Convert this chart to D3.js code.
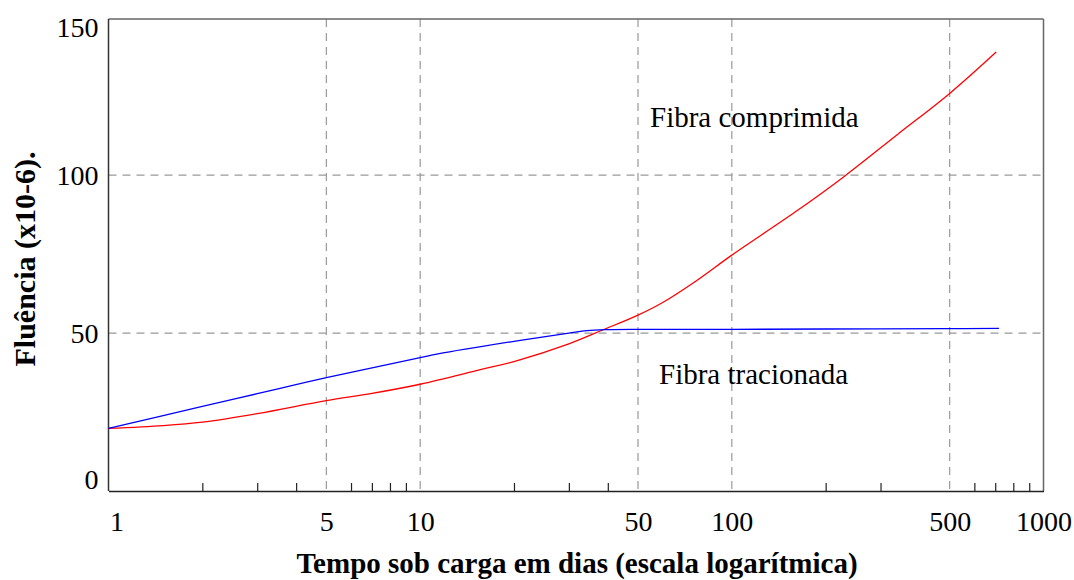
<!DOCTYPE html>
<html>
<head>
<meta charset="utf-8">
<script src="https://cdn.jsdelivr.net/npm/d3@7"></script>
<style>
  html, body { margin: 0; padding: 0; background: #fff; }
  svg { display: block; }
  text { font-family: "Liberation Serif", "Times New Roman", serif; fill: #000; }
</style>
</head>
<body>
<svg id="chart" width="1074" height="580"></svg>
<script>
// ---- data ----
const compDays   = [1, 1.5, 2, 3, 5, 7, 10, 15.6, 20, 30, 38.3, 50, 60, 77, 100, 160, 230, 340, 500, 705];
const compValues = [19.8, 20.7, 21.8, 24.5, 28.6, 30.9, 33.8, 38.4, 41.0, 46.6, 50.9, 55.7, 59.7, 66.6, 74.7, 88.4, 99.7, 112.9, 125.9, 139];
const tracDays   = [1, 2, 3, 5, 10, 11.4, 20, 30, 34.3, 40, 50, 100, 200, 500, 720];
const tracValues = [19.8, 26.8, 30.8, 35.9, 42.2, 43.4, 47.4, 50.0, 50.8, 51.1, 51.2, 51.2, 51.3, 51.4, 51.5];
const xMajorTicks = [1, 5, 10, 50, 100, 500, 1000];
const xGridTicks  = [5, 10, 50, 100, 500];
const xMinorTicks = [2, 3, 4, 6, 7, 8, 9, 20, 30, 40, 200, 300, 600, 700, 800, 900];
const yTicks      = [0, 50, 100, 150];
const yGridTicks  = [50, 100];
const labelComp = "Fibra comprimida";
const labelTrac = "Fibra tracionada";
const xTitle = "Tempo sob carga em dias (escala logarítmica)";
const yTitle = "Fluência (x10-6).";

// ---- layout ----
const L = 108.5, R = 1043.5, T = 19, B = 491;
const svg = d3.select("#chart");
const x = d3.scaleLog().domain([1, 1000]).range([L, R]);
const y = d3.scaleLinear().domain([0, 150]).range([B, 17.3]);

// grid
const grid = svg.append("g").attr("stroke", "#999").attr("stroke-width", 1.2).attr("stroke-dasharray", "8,6");
grid.selectAll("line.v").data(xGridTicks).join("line")
  .attr("x1", d => x(d)).attr("x2", d => x(d)).attr("y1", T).attr("y2", B);
grid.selectAll("line.h").data(yGridTicks).join("line")
  .attr("x1", L).attr("x2", R).attr("y1", d => y(d)).attr("y2", d => y(d));

// frame
svg.append("line").attr("x1", L).attr("x2", R).attr("y1", T).attr("y2", T).attr("stroke", "#666").attr("stroke-width", 1.5);
svg.append("line").attr("x1", R).attr("x2", R).attr("y1", T).attr("y2", B).attr("stroke", "#666").attr("stroke-width", 1.5);
svg.append("line").attr("x1", L).attr("x2", L).attr("y1", T).attr("y2", B).attr("stroke", "#333").attr("stroke-width", 1.5);

// minor ticks
const minor = svg.append("g").attr("transform", `translate(0,${B})`)
  .call(d3.axisBottom(x).tickValues(xMinorTicks).tickSize(-8).tickFormat(""));
minor.select(".domain").remove();
minor.selectAll("line").attr("stroke", "#222").attr("stroke-width", 1.2);

// x axis
const xa = svg.append("g").attr("transform", `translate(0,${B})`)
  .call(d3.axisBottom(x).tickValues(xMajorTicks).tickFormat(d3.format("d")).tickSize(0).tickPadding(20));
xa.select(".domain").attr("stroke", "#222").attr("stroke-width", 1.5);
xa.selectAll("text").attr("font-size", 28).attr("font-family", "Liberation Serif").attr("fill", "#000");
xa.selectAll(".tick").filter(d => d === 1).select("text").attr("text-anchor", "start").attr("x", 1);

// y axis labels
const ya = svg.append("g").attr("transform", `translate(${L},0)`)
  .call(d3.axisLeft(y).tickValues(yTicks).tickSize(0).tickPadding(10));
ya.select(".domain").remove();
ya.selectAll("text").attr("font-size", 28).attr("font-family", "Liberation Serif").attr("fill", "#000");
ya.selectAll(".tick").filter(d => d === 0).select("text").attr("y", -11.5);
ya.selectAll(".tick").filter(d => d === 150).select("text").attr("y", 10);

// lines
const lineGen = d3.line().x(d => x(d[0])).y(d => y(d[1])).curve(d3.curveCatmullRom.alpha(0.5));
svg.append("path").datum(d3.zip(compDays, compValues)).attr("d", lineGen)
  .attr("fill", "none").attr("stroke", "#ff0000").attr("stroke-width", 1.3);
svg.append("path").datum(d3.zip(tracDays, tracValues)).attr("d", lineGen)
  .attr("fill", "none").attr("stroke", "#0000ff").attr("stroke-width", 1.3);

// annotations
svg.append("text").attr("x", 650).attr("y", 127).attr("font-size", 29).text(labelComp);
svg.append("text").attr("x", 659).attr("y", 384).attr("font-size", 29).text(labelTrac);

// titles
svg.append("text").attr("x", (L + R) / 2 + 1).attr("y", 573).attr("text-anchor", "middle")
  .attr("font-size", 29).attr("font-weight", "bold").text(xTitle);
svg.append("text").attr("transform", `translate(35,259) rotate(-90)`).attr("text-anchor", "middle")
  .attr("font-size", 30).attr("font-weight", "bold").text(yTitle);
</script>
</body>
</html>
